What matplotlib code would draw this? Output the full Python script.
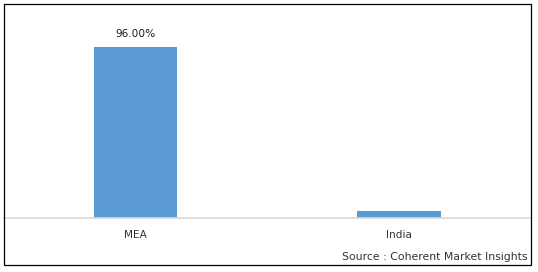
import matplotlib.pyplot as plt
from matplotlib.patches import Rectangle

regions = ["MEA", "India"]
shares = [96.0, 4.0]
bar_labels = ["96.00%", ""]
source = "Source : Coherent Market Insights"

W, H = 538, 272
fig = plt.figure(figsize=(W / 100, H / 100), dpi=100)

# axes placed so baseline sits at y=218px and categories at x=135/399px
px_per_unit = (218 - 46.7) / 96.0
ytop = 110
ax = fig.add_axes([3.75 / W, (H - 218) / H, 527 / W, ytop * px_per_unit / H])

x = range(len(regions))
bars = ax.bar(x, shares, width=0.315, color="#5B9BD5")
for b, lab in zip(bars, bar_labels):
    if lab:
        ax.annotate(lab, (b.get_x() + b.get_width() / 2, b.get_height()),
                    xytext=(0, 5.5), textcoords="offset points",
                    ha="center", va="bottom", fontsize=7.6, color="#1a1a1a",
                    family="DejaVu Sans")

ax.set_xlim(-0.5, 1.5)
ax.set_ylim(0, ytop)
ax.set_xticks(list(x))
ax.set_xticklabels(regions, fontsize=7.6, color="#333333", family="DejaVu Sans")
ax.tick_params(axis="x", length=0, pad=9)
ax.set_yticks([])
for s in ["top", "right", "left"]:
    ax.spines[s].set_visible(False)
ax.spines["bottom"].set_color("#D9D9D9")
ax.spines["bottom"].set_linewidth(1.2)
ax.patch.set_alpha(0)

# outer frame
fig.patches.append(Rectangle((4 / W, (H - 265) / H), 527 / W, 261 / H,
                             transform=fig.transFigure, fill=False,
                             edgecolor="black", linewidth=0.9))

fig.text(527 / W, (H - 257) / H, source, ha="right", va="center",
         fontsize=7.8, color="#333333", family="DejaVu Sans")

fig.savefig("out.png", dpi=100)
